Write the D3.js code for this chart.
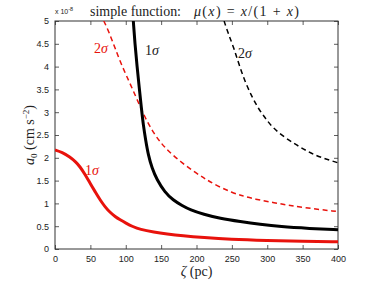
<!DOCTYPE html>
<html>
<head>
<meta charset="utf-8">
<script src="https://cdn.jsdelivr.net/npm/d3@7"></script>
<style>
  body { margin: 0; background: #fff; }
  .tick text { font-family: "Liberation Sans", Arial, sans-serif; font-size: 9px; fill: #222; }
  .serif { font-family: "Liberation Serif", "DejaVu Serif", serif; }
</style>
</head>
<body>
<div id="chart"></div>
<script>
// values (zeta in pc, a0 in units of 1e-8 cm s^-2)
var xTicks = [0, 50, 100, 150, 200, 250, 300, 350, 400];
var yTicks = [0, 0.5, 1, 1.5, 2, 2.5, 3, 3.5, 4, 4.5, 5];

var red1Zeta = [0, 10, 21, 30, 35, 42, 50, 57, 64, 71, 78, 85, 92, 100, 110, 120, 140, 158, 180, 210, 247, 300, 350, 400];
var red1A    = [2.17, 2.12, 2.02, 1.90, 1.81, 1.65, 1.43, 1.25, 1.07, 0.92, 0.80, 0.71, 0.64, 0.57, 0.49, 0.43, 0.37, 0.33, 0.29, 0.25, 0.21, 0.185, 0.17, 0.16];

var black1Zeta = [110.7, 113, 116, 119, 122, 125, 128, 132, 137, 144, 155, 167, 180, 191, 210, 233, 262, 290, 318, 360, 400];
var black1A    = [5.0, 4.5, 4.0, 3.55, 3.1, 2.7, 2.4, 2.05, 1.78, 1.52, 1.25, 1.07, 0.95, 0.86, 0.76, 0.67, 0.60, 0.54, 0.49, 0.45, 0.42];

var red2Zeta = [69, 76, 85, 95, 107, 121, 130, 140, 150, 160, 180, 200, 214, 230, 250, 265, 280, 318, 350, 400];
var red2A    = [5.0, 4.77, 4.40, 4.0, 3.6, 3.1, 2.8, 2.53, 2.32, 2.15, 1.88, 1.66, 1.52, 1.38, 1.24, 1.165, 1.10, 0.99, 0.91, 0.82];

var black2Zeta = [239, 245, 253, 260, 268.6, 278, 287.4, 298, 308.6, 325, 341.6, 358, 375, 400];
var black2A    = [5.0, 4.72, 4.40, 4.05, 3.67, 3.35, 3.08, 2.85, 2.65, 2.44, 2.28, 2.13, 2.01, 1.89];

var svgWidth = 374, svgHeight = 281;
var margin = {top: 21, right: 36, bottom: 32, left: 55};
var width = svgWidth - margin.left - margin.right;
var height = svgHeight - margin.top - margin.bottom;

var svg = d3.select("#chart").append("svg")
  .attr("width", svgWidth).attr("height", svgHeight);

var g = svg.append("g")
  .attr("transform", `translate(${margin.left}, ${margin.top})`);

var x = d3.scaleLinear().domain([0, 400]).range([0, width]);
var y = d3.scaleLinear().domain([0, 5]).range([height, 0]);

g.append("defs").append("clipPath").attr("id", "clip")
  .append("rect").attr("width", width).attr("height", height);

// axes, ticks pointing inward on all four sides
function styleAxis(sel) {
  sel.select(".domain").remove();
  sel.selectAll(".tick line").attr("stroke", "#333").attr("stroke-width", 0.8);
}
g.append("g").attr("transform", `translate(0, ${height})`)
  .call(d3.axisBottom(x).tickValues(xTicks).tickSize(-4).tickPadding(7))
  .call(styleAxis);
g.append("g")
  .call(d3.axisTop(x).tickValues(xTicks).tickSize(-4).tickFormat(""))
  .call(styleAxis);
g.append("g")
  .call(d3.axisLeft(y).tickValues(yTicks).tickSize(-4).tickPadding(6).tickFormat(d3.format("")))
  .call(styleAxis);
g.append("g").attr("transform", `translate(${width}, 0)`)
  .call(d3.axisRight(y).tickValues(yTicks).tickSize(-4).tickFormat(""))
  .call(styleAxis);

g.append("rect").attr("width", width).attr("height", height)
  .attr("fill", "none").attr("stroke", "#333").attr("stroke-width", 1);

// b-spline smooths out the small reading errors in the points
var line = d3.line().x(d => x(d[0])).y(d => y(d[1])).curve(d3.curveBasis);
function pts(zs, as) { return zs.map((z, i) => [z, as[i]]); }

var curves = g.append("g").attr("clip-path", "url(#clip)");
curves.append("path").datum(pts(red2Zeta, red2A))
  .attr("d", line).attr("fill", "none").attr("stroke", "#e8120c")
  .attr("stroke-width", 1.5).attr("stroke-dasharray", "5,3.5");
curves.append("path").datum(pts(black2Zeta, black2A))
  .attr("d", line).attr("fill", "none").attr("stroke", "#000")
  .attr("stroke-width", 1.5).attr("stroke-dasharray", "5,3.5");
curves.append("path").datum(pts(black1Zeta, black1A))
  .attr("d", line).attr("fill", "none").attr("stroke", "#000")
  .attr("stroke-width", 3);
curves.append("path").datum(pts(red1Zeta, red1A))
  .attr("d", line).attr("fill", "none").attr("stroke", "#e8120c")
  .attr("stroke-width", 3);

// curve labels
function sigmaLabel(px, py, num, color) {
  var t = svg.append("text").attr("class", "serif")
    .attr("x", px).attr("y", py).attr("fill", color).attr("font-size", 14);
  t.append("tspan").text(num);
  t.append("tspan").attr("font-style", "italic").text("σ");
}
sigmaLabel(94, 53, "2", "#e8120c");
sigmaLabel(145, 55, "1", "#222");
sigmaLabel(238, 58, "2", "#222");
sigmaLabel(85, 175, "1", "#e8120c");

// exponent marker
var ex = svg.append("text").attr("x", 55).attr("y", 14)
  .attr("font-family", "Liberation Sans, Arial, sans-serif").attr("font-size", 7).attr("fill", "#222");
ex.append("tspan").text("x 10");
ex.append("tspan").attr("dy", -3).attr("font-size", 5.5).text("-8");

// title
svg.append("text").attr("class", "serif")
  .attr("x", 90).attr("y", 16).attr("font-size", 14).attr("fill", "#222")
  .attr("textLength", 91).attr("lengthAdjust", "spacingAndGlyphs")
  .text("simple function:");
var title = svg.append("text").attr("class", "serif")
  .attr("x", 194).attr("y", 16).attr("font-size", 14).attr("fill", "#222")
  .attr("textLength", 105).attr("lengthAdjust", "spacing");
title.append("tspan").attr("font-style", "italic").text("μ");
title.append("tspan").text("(");
title.append("tspan").attr("font-style", "italic").text("x");
title.append("tspan").text(") = ");
title.append("tspan").attr("font-style", "italic").text("x");
title.append("tspan").text("/(1 + ");
title.append("tspan").attr("font-style", "italic").text("x");
title.append("tspan").text(")");

// x label
var xl = svg.append("text").attr("class", "serif")
  .attr("x", margin.left + width / 2).attr("y", 276)
  .attr("text-anchor", "middle").attr("font-size", 14).attr("fill", "#222");
xl.append("tspan").attr("font-style", "italic").text("ζ");
xl.append("tspan").text("  (pc)");

// y label
var yl = svg.append("text").attr("class", "serif")
  .attr("transform", `translate(34, ${margin.top + height / 2}) rotate(-90)`)
  .attr("text-anchor", "middle").attr("font-size", 14).attr("fill", "#222");
yl.append("tspan").attr("font-style", "italic").text("a");
yl.append("tspan").attr("font-size", 9).attr("dy", 3).text("0");
yl.append("tspan").attr("dy", -3).text("  (cm s");
yl.append("tspan").attr("font-size", 9).attr("dy", -5).text("−2");
yl.append("tspan").attr("dy", 5).text(")");
</script>
</body>
</html>
